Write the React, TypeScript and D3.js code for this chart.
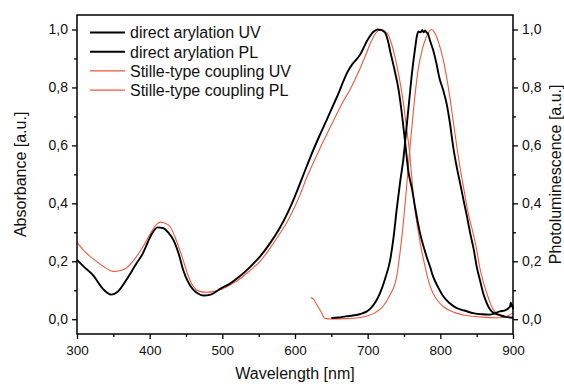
import React, { useRef, useEffect } from "react";
import { select, scaleLinear, line, curveMonotoneX, axisBottom, axisLeft, axisRight, range } from "d3";

// wavelength [nm], value [a.u.]
const directUV: [number, number][] = [
  [300, 0.205], [310, 0.18], [322, 0.152], [336, 0.104], [347, 0.085], [356, 0.095],
  [368, 0.136], [380, 0.185], [391, 0.229], [402, 0.29], [411, 0.317], [418, 0.315],
  [426, 0.298], [433, 0.272], [440, 0.225], [446, 0.171], [453, 0.128], [460, 0.102],
  [467, 0.088], [474, 0.082], [484, 0.085], [497, 0.105], [510, 0.122], [524, 0.148],
  [538, 0.18], [552, 0.217], [565, 0.26], [579, 0.315], [590, 0.368], [600, 0.425],
  [611, 0.495], [622, 0.565], [634, 0.635], [644, 0.69], [653, 0.741], [660, 0.78],
  [666, 0.818], [672, 0.852], [678, 0.877], [684, 0.895], [690, 0.915], [695, 0.94],
  [699, 0.96], [704, 0.98], [708, 0.992], [714, 1.0], [719, 0.998], [724, 0.989],
  [728, 0.96], [731, 0.925], [737, 0.86], [742, 0.8], [748, 0.69], [752, 0.6],
  [756, 0.51], [761, 0.45], [765, 0.39], [772, 0.298], [777, 0.25], [781, 0.217],
  [786, 0.18], [790, 0.148], [797, 0.11], [804, 0.079], [813, 0.055], [822, 0.039],
  [833, 0.03], [845, 0.021], [857, 0.017], [868, 0.016], [875, 0.02], [882, 0.027],
  [888, 0.03], [893, 0.036], [896, 0.045], [897, 0.058], [898, 0.045], [899, 0.05],
  [900, 0.035],
];

const directPL: [number, number][] = [
  [650, 0.004], [660, 0.006], [670, 0.01], [680, 0.013], [690, 0.018], [699, 0.027],
  [705, 0.04], [711, 0.06], [717, 0.09], [724, 0.14], [731, 0.205], [736, 0.29],
  [740, 0.38], [745, 0.48], [749, 0.55], [753, 0.65], [757, 0.75], [761, 0.85],
  [765, 0.93], [768, 0.98], [770, 0.993], [773, 0.99], [775, 0.998], [777, 0.99],
  [779, 0.997], [781, 0.99], [783, 0.985], [786, 0.96], [790, 0.93], [794, 0.89],
  [799, 0.83], [804, 0.79], [809, 0.74], [813, 0.68], [818, 0.59], [823, 0.52],
  [828, 0.46], [832, 0.41], [837, 0.35], [841, 0.298], [846, 0.24], [850, 0.182],
  [855, 0.13], [859, 0.09], [864, 0.055], [868, 0.035], [873, 0.022], [882, 0.014],
  [890, 0.008], [900, 0.005],
];

const stilleUV: [number, number][] = [
  [300, 0.265], [310, 0.235], [322, 0.209], [336, 0.183], [350, 0.165], [360, 0.168],
  [368, 0.177], [380, 0.21], [391, 0.251], [402, 0.3], [410, 0.328], [415, 0.335],
  [422, 0.33], [428, 0.32], [437, 0.27], [446, 0.205], [453, 0.15], [460, 0.113],
  [468, 0.097], [478, 0.093], [490, 0.097], [497, 0.102], [510, 0.118], [524, 0.139],
  [538, 0.168], [552, 0.2], [565, 0.243], [579, 0.295], [589, 0.335], [600, 0.39],
  [607, 0.43], [616, 0.488], [628, 0.555], [639, 0.614], [648, 0.66], [657, 0.706],
  [666, 0.75], [676, 0.794], [683, 0.83], [690, 0.868], [697, 0.91], [703, 0.948],
  [708, 0.975], [712, 0.99], [719, 1.0], [724, 0.993], [728, 0.983], [733, 0.95],
  [738, 0.9], [743, 0.84], [749, 0.75], [754, 0.65], [758, 0.57], [761, 0.48],
  [765, 0.38], [770, 0.298], [774, 0.24], [779, 0.182], [784, 0.13], [790, 0.09],
  [797, 0.062], [804, 0.044], [813, 0.03], [822, 0.021], [833, 0.014], [845, 0.01],
  [860, 0.007], [875, 0.005], [885, 0.006], [893, 0.012], [900, 0.022],
];

const stillePL: [number, number][] = [
  [622, 0.075], [625, 0.07], [630, 0.05], [636, 0.025], [641, 0.003], [650, 0.001],
  [670, 0.002], [690, 0.006], [700, 0.012], [710, 0.022], [721, 0.044], [730, 0.08],
  [740, 0.148], [745, 0.24], [749, 0.33], [753, 0.44], [756, 0.53], [760, 0.64],
  [765, 0.77], [770, 0.87], [775, 0.93], [780, 0.97], [785, 0.995], [788, 1.0],
  [792, 0.99], [797, 0.96], [804, 0.896], [811, 0.8], [818, 0.68], [823, 0.59],
  [828, 0.51], [833, 0.44], [838, 0.37], [845, 0.298], [850, 0.24], [854, 0.182],
  [859, 0.13], [864, 0.09], [868, 0.06], [873, 0.033], [880, 0.017], [886, 0.01],
  [893, 0.006], [900, 0.004],
];

const legendLabels = [
  "direct arylation UV",
  "direct arylation PL",
  "Stille-type coupling UV",
  "Stille-type coupling PL",
];

const xTicks = [300, 400, 500, 600, 700, 800, 900];
const yTicks = [0, 0.2, 0.4, 0.6, 0.8, 1.0];

const BLACK = "#000";
const RED = "#f0583a";
const FONT = "'Liberation Sans', Arial, sans-serif";

const margin = { left: 77, right: 51, top: 15, bottom: 50 };
const width = 564;
const height = 384;

function App() {
  const svgRef = useRef<SVGSVGElement>(null);

  useEffect(() => {
    const svg = select(svgRef.current);
    svg.selectAll("*").remove();

    const x = scaleLinear().domain([300, 900]).range([margin.left, width - margin.right]);
    // left and right axes share the same 0..1 range
    const y = scaleLinear().domain([-0.051, 1.05]).range([height - margin.bottom, margin.top]);

    const path = line<[number, number]>()
      .x(d => x(d[0]))
      .y(d => y(d[1]))
      .curve(curveMonotoneX);

    const plot = svg.append("g");
    const series: [[number, number][], string, number][] = [
      [stilleUV, RED, 1.1],
      [stillePL, RED, 1.1],
      [directUV, BLACK, 1.9],
      [directPL, BLACK, 1.9],
    ];
    series.forEach(([data, color, w]) => {
      plot
        .append("path")
        .attr("d", path(data))
        .attr("fill", "none")
        .attr("stroke", color)
        .attr("stroke-width", w)
        .attr("stroke-linejoin", "round");
    });

    const fmt = (d: number) => d.toFixed(1).replace(".", ",");
    const bottomY = height - margin.bottom;

    const styleAxis = (g: any) => {
      g.select(".domain").remove();
      g.selectAll("line").attr("stroke", "#000").attr("stroke-width", 1.3);
      g.selectAll("text").attr("font-family", FONT).attr("font-size", 14).attr("fill", "#111");
    };

    // minor ticks
    svg.append("g")
      .attr("transform", `translate(0,${bottomY})`)
      .call(axisBottom(x).tickValues(range(350, 900, 100)).tickSize(3).tickFormat(() => ""))
      .call(styleAxis);
    svg.append("g")
      .attr("transform", `translate(${margin.left},0)`)
      .call(axisLeft(y).tickValues(range(0.1, 1.0, 0.2)).tickSize(3).tickFormat(() => ""))
      .call(styleAxis);
    svg.append("g")
      .attr("transform", `translate(${width - margin.right},0)`)
      .call(axisRight(y).tickValues(range(0.1, 1.0, 0.2)).tickSize(3).tickFormat(() => ""))
      .call(styleAxis);

    // major ticks
    svg.append("g")
      .attr("transform", `translate(0,${bottomY})`)
      .call(axisBottom(x).tickValues(xTicks).tickSize(5).tickPadding(6).tickFormat(d => String(d)))
      .call(styleAxis)
      .call(g => g.selectAll("text").attr("font-size", 13.5));
    svg.append("g")
      .attr("transform", `translate(${margin.left},0)`)
      .call(axisLeft(y).tickValues(yTicks).tickSize(5).tickPadding(4).tickFormat(d => fmt(+d)))
      .call(styleAxis);
    svg.append("g")
      .attr("transform", `translate(${width - margin.right},0)`)
      .call(axisRight(y).tickValues(yTicks).tickSize(5).tickPadding(4).tickFormat(d => fmt(+d)))
      .call(styleAxis);

    // frame
    svg.append("rect")
      .attr("x", margin.left)
      .attr("y", margin.top)
      .attr("width", width - margin.left - margin.right)
      .attr("height", bottomY - margin.top)
      .attr("fill", "none")
      .attr("stroke", "#000")
      .attr("stroke-width", 1.5);

    // axis titles
    const title = (t: string) =>
      svg.append("text").attr("font-family", FONT).attr("font-size", 16).attr("fill", "#111").attr("text-anchor", "middle").text(t);
    title("Wavelength [nm]").attr("x", x(600)).attr("y", 379);
    title("Absorbance [a.u.]").attr("transform", `translate(26,${y(0.5)}) rotate(-90)`);
    title("Photoluminescence [a.u.]").attr("transform", `translate(561,${y(0.5)}) rotate(-90)`);

    // legend
    const legend = svg.append("g");
    legendLabels.forEach((label, i) => {
      const ly = 32.5 + i * 19.2;
      legend.append("line")
        .attr("x1", 90).attr("x2", 125).attr("y1", ly).attr("y2", ly)
        .attr("stroke", i < 2 ? BLACK : RED)
        .attr("stroke-width", i < 2 ? 1.9 : 1.1);
      legend.append("text")
        .attr("x", 130).attr("y", ly + 5.8)
        .attr("font-family", FONT).attr("font-size", 16).attr("fill", "#111")
        .text(label);
    });
  }, []);

  return (
    <div style={{ position: "absolute", left: 0, top: 0 }}>
      <svg ref={svgRef} width={width} height={height} style={{ display: "block", background: "#fff" }} />
    </div>
  );
}

export default App;
